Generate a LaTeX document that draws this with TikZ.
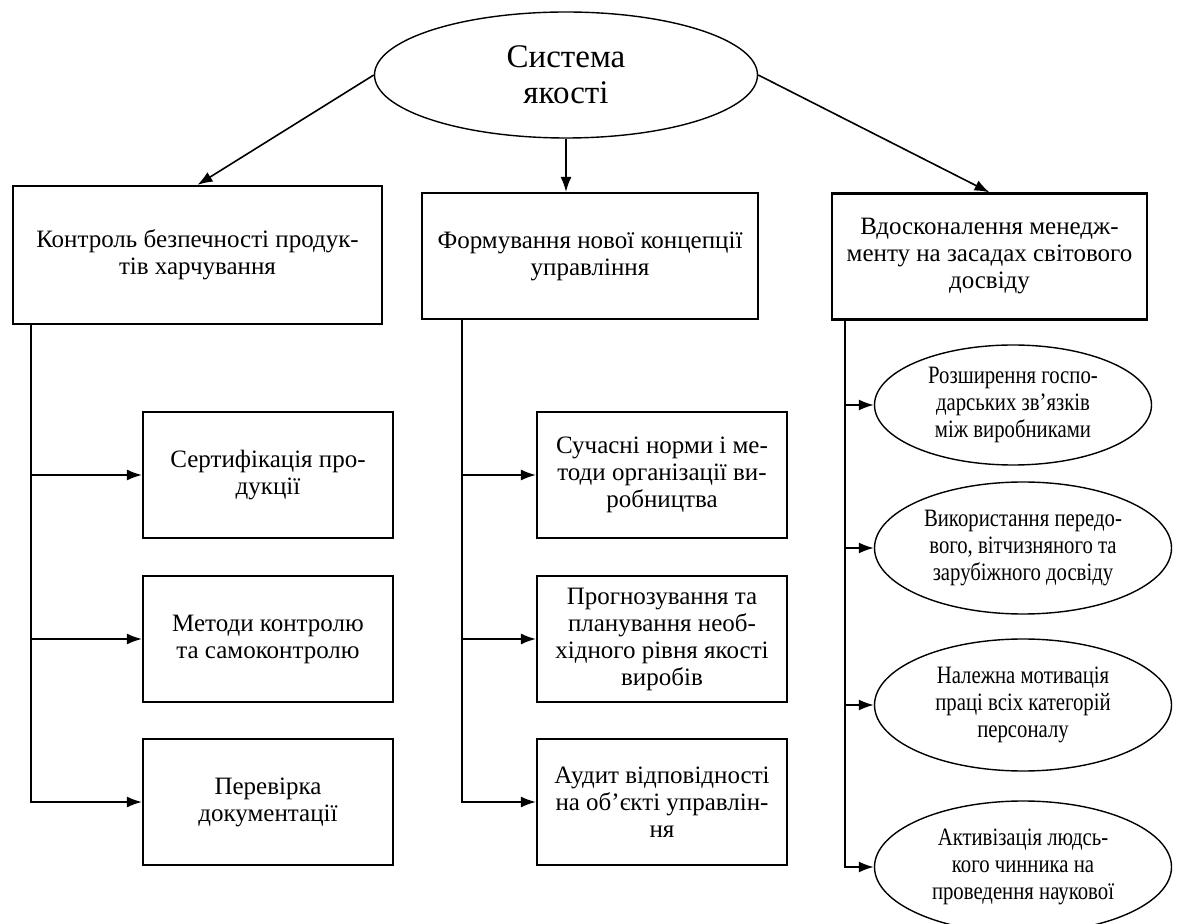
\documentclass[tikz,border=0pt]{standalone}
\usepackage{fontspec}
\setmainfont{Liberation Serif}
\newfontfamily\ovalfont[FakeStretch=0.83]{Liberation Serif}
\usetikzlibrary{arrows.meta,positioning,shapes.geometric}
\tikzset{font=\fontsize{12.5}{13.5}\selectfont}
\tikzset{box/.style={draw,line width=1.1pt,align=center,
    minimum width=125pt,minimum height=63pt,inner sep=2pt}}
\tikzset{oval/.style={ellipse,draw,line width=0.7pt,align=center,
    inner sep=0pt,minimum width=148.5pt,minimum height=66pt,
    font=\ovalfont\fontsize{12.5}{13.5}\selectfont}}
\tikzset{link/.style={-{Latex[length=7.5pt,width=5.5pt]},line width=0.8pt}}

\begin{document}
\begin{tikzpicture}[x=0.5pt,y=-0.5pt]
  \useasboundingbox (0,0) rectangle (1178,924);
  % top
  \node[oval,minimum width=191.5pt,minimum height=63pt,
    font=\fontsize{16.5}{18}\selectfont] (sys) at (566,75) {Система\\якості};
  \node[box,minimum width=184.5pt,minimum height=69pt] (kb) at (197.5,255)
    {Контроль безпечності продук-\\тів харчування};
  \node[box,minimum width=168pt] (fk) at (590,256)
    {Формування нової концепції\\управління};
  \node[box,minimum width=157.5pt] (vd) at (989.5,256.5)
    {Вдосконалення менедж-\\менту на засадах світового\\досвіду};
  % left column
  \node[box] (s1) at (268,475) {Сертифікація про-\\дукції};
  \node[box] (s2) at (268,639) {Методи контролю\\та самоконтролю};
  \node[box] (s3) at (268,802) {Перевірка\\документації};
  % middle column
  \node[box] (m1) at (662,475) {Сучасні норми і ме-\\тоди організації ви-\\робництва};
  \node[box] (m2) at (662,639) {Прогнозування та\\планування необ-\\хідного рівня якості\\виробів};
  \node[box] (m3) at (662,802) {Аудит відповідності\\на об’єкті управлін-\\ня};
  % right column
  \node[oval,minimum width=138.5pt,minimum height=60pt] (e1) at (1013,405)
    {Розширення госпо-\\дарських зв’язків\\між виробниками};
  \node[oval] (e2) at (1023,548) {Використання передо-\\вого, вітчизняного та\\зарубіжного досвіду};
  \node[oval] (e3) at (1023,705) {Належна мотивація\\праці всіх категорій\\персоналу};
  \node[oval] (e4) at (1023,867) {Активізація людсь-\\кого чинника на\\проведення наукової};

  \draw[link] (sys.west) -- (kb.north);
  \draw[link] (sys.south) -- (sys.south |- fk.north);
  \draw[link] (sys.east) -- (vd.north);

  \coordinate (kt) at ([xshift=9.5pt]kb.south west);
  \coordinate (ft) at ([xshift=20.5pt]fk.south west);
  \coordinate (vt) at ([xshift=7pt]vd.south west);
  \draw[link] (kt) |- (s3.west);
  \draw[link] (ft) |- (m3.west);
  \draw[link] (vt) |- (e4.west);
  \foreach \n in {s1,s2}
  \draw[link] (kt |- \n.west) -- (\n.west);
  \foreach \n in {m1,m2}
  \draw[link] (ft |- \n.west) -- (\n.west);
  \foreach \n in {e1,e2,e3}
  \draw[link] (vt |- \n.west) -- (\n.west);
\end{tikzpicture}
\end{document}
